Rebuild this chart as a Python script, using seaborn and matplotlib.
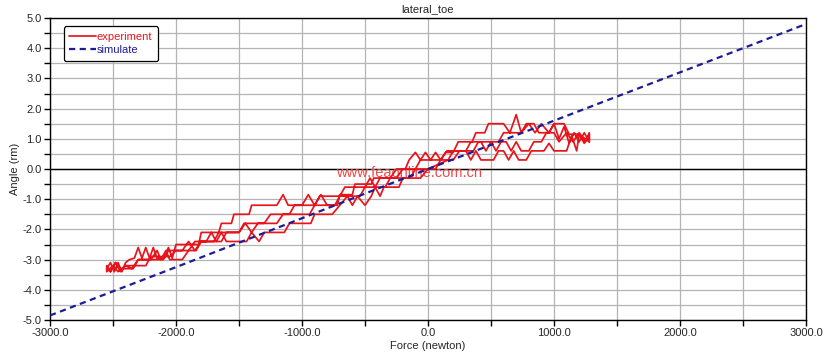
import numpy as np
import pandas as pd
import matplotlib
matplotlib.use("Agg")
import matplotlib.pyplot as plt
from matplotlib.ticker import MultipleLocator, FormatStrFormatter
import seaborn as sns

# ── Data ───────────────────────────────────────────────────────────────────────
# experiment: four passes of the hysteresis loop (force in N, angle in rm)
exp_pass1_force = [-2550, -2520, -2490, -2460, -2430, -2400, -2370, -2330, -2300, -2270,
                   -2240, -2210, -2180, -2150, -2100, -2060, -2030, -2000, -1900, -1820,
                   -1800, -1700, -1660, -1640, -1560, -1540, -1420, -1400, -1200, -1150,
                   -1110, -1000, -950, -900, -850, -800, -720, -700, -600, -580,
                   -450, -430, -300, -250, -180, -150, -100, -60, -20, 20,
                   60, 100, 140, 200, 240, 350, 380, 450, 480, 600,
                   650, 700, 740, 800, 850, 900, 960, 1000, 1040, 1080,
                   1120, 1160, 1200, 1240, 1280]
exp_pass1_angle = [-3.3, -3.1, -3.4, -3.1, -3.4, -3.1, -3.0, -2.95, -2.6, -2.95,
                   -2.6, -2.95, -2.6, -2.95, -2.95, -2.6, -2.95, -2.5, -2.5, -2.5,
                   -2.1, -2.1, -2.1, -1.8, -1.8, -1.5, -1.5, -1.2, -1.2, -0.85,
                   -1.2, -1.2, -0.85, -1.2, -0.85, -1.2, -1.2, -0.85, -0.85, -0.5,
                   -0.5, -0.3, -0.3, 0.0, 0.0, 0.3, 0.55, 0.3, 0.55, 0.3,
                   0.55, 0.3, 0.55, 0.55, 0.9, 0.9, 1.2, 1.2, 1.5, 1.5,
                   1.2, 1.8, 1.2, 1.5, 1.2, 1.5, 1.2, 1.5, 1.0, 1.4,
                   0.85, 1.2, 0.9, 1.2, 0.9]

exp_pass2_force = [1280, 1240, 1200, 1180, 1140, 1100, 1060, 1000, 960, 920,
                   820, 780, 720, 680, 640, 600, 560, 520, 420, 380,
                   340, 300, 200, 160, 0, -60, -200, -230, -350, -380,
                   -420, -450, -500, -560, -600, -640, -700, -760, -900, -930,
                   -1100, -1140, -1300, -1340, -1400, -1440, -1600, -1640, -1680, -1720,
                   -1760, -1800, -1840, -1900, -1950, -2050, -2080, -2120, -2150, -2200,
                   -2300, -2340, -2450, -2480, -2520, -2550]
exp_pass2_angle = [1.15, 0.85, 1.15, 0.6, 1.1, 0.6, 0.6, 0.6, 0.85, 0.6,
                   0.6, 0.3, 0.3, 0.6, 0.3, 0.6, 0.6, 0.3, 0.3, 0.6,
                   0.3, 0.6, 0.6, 0.3, 0.0, -0.3, -0.3, -0.6, -0.6, -0.9,
                   -0.6, -0.9, -1.2, -0.9, -1.2, -0.9, -1.2, -1.5, -1.5, -1.8,
                   -1.8, -2.1, -2.1, -2.4, -2.1, -2.4, -2.4, -2.1, -2.4, -2.1,
                   -2.4, -2.4, -2.7, -2.7, -3.0, -3.0, -2.7, -3.0, -2.7, -3.0,
                   -3.0, -3.3, -3.3, -3.1, -3.4, -3.2]

exp_pass3_force = [-2550, -2500, -2460, -2400, -2350, -2300, -2100, -2060, -1900, -1850,
                   -1700, -1660, -1500, -1460, -1300, -1250, -1100, -1060, -900, -860,
                   -700, -660, -500, -460, -420, -380, -250, -200, -100, -60,
                   100, 150, 300, 340, 420, 460, 500, 540, 580, 620,
                   660, 700, 740, 800, 840, 900, 940, 1000, 1040, 1100,
                   1150, 1200, 1250, 1280]
exp_pass3_angle = [-3.4, -3.2, -3.4, -3.2, -3.3, -3.0, -3.0, -2.7, -2.7, -2.4,
                   -2.4, -2.1, -2.1, -1.8, -1.8, -1.5, -1.5, -1.2, -1.2, -0.9,
                   -0.9, -0.6, -0.6, -0.3, -0.6, -0.3, -0.3, 0.0, 0.0, 0.3,
                   0.3, 0.6, 0.6, 0.9, 0.9, 0.6, 0.9, 0.6, 0.9, 0.9,
                   0.6, 0.9, 0.6, 0.6, 0.9, 0.9, 1.2, 1.2, 0.9, 1.2,
                   0.9, 1.2, 0.9, 1.2]

exp_pass4_force = [1280, 1200, 1120, 1080, 1000, 960, 880, 840, 780, 740,
                   600, 560, 400, 360, 250, 200, 100, 60, -100, -140,
                   -300, -340, -500, -540, -700, -740, -900, -940, -1150, -1200,
                   -1350, -1400, -1450, -1500, -1600, -1640, -1800, -1850, -1900, -1950,
                   -2000, -2050, -2200, -2240, -2400, -2440, -2480, -2520, -2550]
exp_pass4_angle = [0.9, 1.15, 1.15, 1.5, 1.5, 1.2, 1.2, 1.5, 1.5, 1.2,
                   1.2, 0.9, 0.9, 0.6, 0.6, 0.3, 0.3, 0.0, 0.0, -0.3,
                   -0.3, -0.6, -0.6, -0.9, -0.9, -1.2, -1.2, -1.5, -1.5, -1.8,
                   -1.8, -2.1, -1.8, -2.1, -2.1, -2.4, -2.4, -2.7, -2.4, -2.7,
                   -2.7, -2.9, -2.9, -3.2, -3.2, -3.4, -3.1, -3.4, -3.3]

sim_force = [-3000, -2000, -1000, 0, 1000, 2000, 3000]
sim_angle = [-4.85, -3.25, -1.63, 0.0, 1.6, 3.2, 4.8]

exp_force = exp_pass1_force + exp_pass2_force + exp_pass3_force + exp_pass4_force
exp_angle = exp_pass1_angle + exp_pass2_angle + exp_pass3_angle + exp_pass4_angle

EXP_CLR = "#e8141c"
SIM_CLR = "#1c1c96"
GRID_CLR = "#b4b4b4"

sns.set_style("white")
plt.rcParams["font.family"] = ["Liberation Sans", "DejaVu Sans"]
plt.rcParams["font.size"] = 8

fig = plt.figure(figsize=(8.26, 3.59), dpi=100)
ax = fig.add_axes([50 / 826, 39 / 359, 756 / 826, 302 / 359])

exp_df = pd.DataFrame({"force": exp_force, "angle": exp_angle})
sim_df = pd.DataFrame({"force": sim_force, "angle": sim_angle})

sns.lineplot(data=exp_df, x="force", y="angle", sort=False, estimator=None,
             color=EXP_CLR, lw=1.25, ax=ax, label="experiment", zorder=3)
sns.lineplot(data=sim_df, x="force", y="angle", sort=False, estimator=None,
             color=SIM_CLR, lw=1.6, ax=ax, label="simulate", zorder=4)
ax.lines[-1].set_dashes((2.8, 2.0))

ax.axhline(0, color="black", lw=1.0, zorder=2)

# watermark (sits under the traces)
ax.text(-730, -0.12, "www.feaonline.com.cn", color="#ee4a4a", fontsize=10.5,
        va="center", ha="left", zorder=2.5)

ax.set_xlim(-3000, 3000)
ax.set_ylim(-5, 5)
ax.xaxis.set_major_locator(MultipleLocator(1000))
ax.xaxis.set_minor_locator(MultipleLocator(500))
ax.yaxis.set_major_locator(MultipleLocator(1.0))
ax.yaxis.set_minor_locator(MultipleLocator(0.5))
ax.xaxis.set_major_formatter(FormatStrFormatter("%.1f"))
ax.yaxis.set_major_formatter(FormatStrFormatter("%.1f"))
ax.grid(True, which="both", color=GRID_CLR, lw=0.9, zorder=0)
ax.set_axisbelow(True)
ax.tick_params(which="both", direction="out", length=4, width=1, color="black",
               bottom=True, left=True, top=False, right=False, labelsize=8, pad=2)
for s in ax.spines.values():
    s.set_color("black")
    s.set_linewidth(1.0)

ax.set_title("lateral_toe", fontsize=8, pad=4)
ax.set_xlabel("Force (newton)", fontsize=8, labelpad=2)
ax.set_ylabel("Angle (rm)", fontsize=8, labelpad=2)

leg = ax.legend(loc="upper left", bbox_to_anchor=(0.018, 0.972), borderaxespad=0,
                frameon=True, fancybox=True, edgecolor="black", facecolor="white",
                framealpha=1, handlelength=2.4, handletextpad=0.1, fontsize=8,
                borderpad=0.5, labelspacing=0.3)
leg.get_frame().set_linewidth(0.9)
for txt, clr in zip(leg.get_texts(), [EXP_CLR, SIM_CLR]):
    txt.set_color(clr)

fig.savefig("out.png", dpi=100)
